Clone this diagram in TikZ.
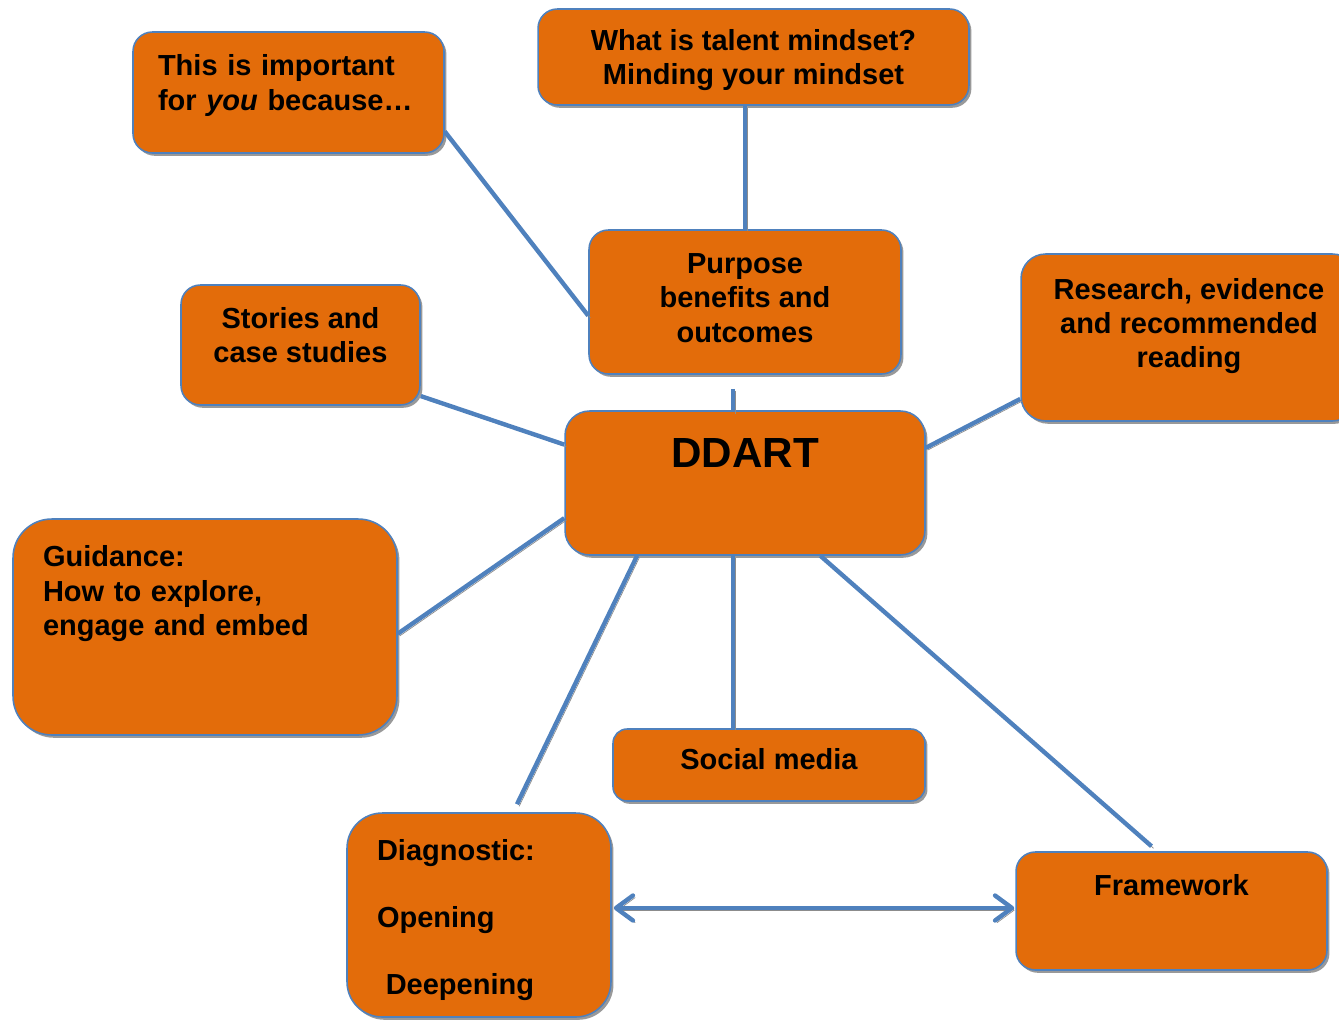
\documentclass[tikz,border=0pt]{standalone}
\usepackage{fontspec}
\setmainfont{Liberation Sans}
\usepackage{xcolor}
\usepackage{tikz}
\usetikzlibrary{arrows.meta, shadows}
\definecolor{DD_ORANGE}{HTML}{E36C0A}
\definecolor{DD_BLUE}{HTML}{4F81BD}
\newcommand{\DDlift}[1]{\rule[-#1]{0pt}{#1}}
\tikzset{
  topic/.style={
    rectangle, rounded corners=11pt,
    text centered, align=center,
    draw=DD_BLUE, line width=0.9pt, fill=DD_ORANGE,
    drop shadow={shadow xshift=1.4pt, shadow yshift=-1.6pt, fill=black, opacity=0.4},
    font=\fontsize{16.5}{19.5}\selectfont\bfseries},
  topicl/.style={
    topic, align=left},
  link/.style={
    line width=2.5pt, draw=DD_BLUE,
    preaction={draw=black!45, transform canvas={xshift=1.2pt, yshift=-1.2pt}}},
  barb/.tip={Straight Barb[length=0.34cm, width=0.5cm, round]},
}
\begin{document}
\begin{tikzpicture}[x=0.02cm, y=-0.02cm]
  \useasboundingbox (0,0) rectangle (1339,1019);

  \node[topic, minimum width=8.62cm, minimum height=1.92cm, text height=35pt] (talent) at (753.5,57)
    {What is talent mindset?\\Minding your mindset};
  \node[topicl, text width=5.22cm, inner xsep=0.5cm, minimum height=2.42cm] (important) at (288.5,92.5)
    {This is important\\for \textit{you} because…\DDlift{0.4cm}};
  \node[topic, minimum width=6.24cm, minimum height=2.88cm] (purpose) at (745,302)
    {Purpose\\benefits and\\outcomes\DDlift{0.16cm}};
  \node[topic, minimum width=4.78cm, minimum height=2.4cm] (stories) at (300.5,345)
    {Stories and\\case studies\DDlift{0.4cm}};
  \node[topic, rounded corners=14pt, minimum width=6.72cm, minimum height=3.34cm] (research) at (1189,337.5)
    {Research, evidence\\and recommended\\reading\DDlift{0.58cm}};

  \node[topic, rounded corners=14pt, minimum width=7.2cm, minimum height=2.88cm,
    font=\fontsize{24}{28}\selectfont\bfseries] (ddart) at (745,483)
    {DDART\DDlift{1.2cm}};

  \node[topicl, rounded corners=22pt, text width=6.48cm, inner xsep=0.6cm, minimum height=4.32cm] (guidance) at (205,627)
    {Guidance:\\How to explore,\\engage and embed\DDlift{1.46cm}};
  \node[topic, rounded corners=8pt, minimum width=6.24cm, minimum height=1.44cm] (social) at (769,765)
    {Social media\DDlift{0.24cm}};
  \node[topicl, rounded corners=20pt, text width=4.08cm, inner xsep=0.6cm, minimum height=4.08cm,
    text height=17.5pt] (diag) at (479,915)
    {Diagnostic:\\[0.66cm]Opening\\[0.66cm]\hspace*{5pt}Deepening};
  \node[topic, minimum width=6.22cm, minimum height=2.36cm] (frame) at (1171.5,911)
    {Framework\DDlift{1.04cm}};

  \draw[link] (talent.south -| purpose.north) -- (purpose.north);
  \draw[link] (important.-14.6) -- (purpose.185.9);
  \draw[link] ([shift={(-12,14)}]purpose.south) -- ([shift={(-12,2)}]ddart.north);
  \draw[link] (stories.-23.1) -- (ddart.168.4);
  \draw[link] (research.200.2) -- (ddart.11.6);
  \draw[link] (guidance.-2.4) -- (ddart.191.6);
  \draw[link] (ddart.214.4) -- ([shift={(38,-8)}]diag.north);
  \draw[link] ([shift={(-12,0)}]ddart.south) -- ([shift={(-12,0)}]ddart.south |- social.north);
  \draw[link] (ddart.-44.6) -- ([shift={(-20,-5)}]frame.north);
  \draw[link, barb-barb] ([shift={(2,-3)}]diag.east |- frame.west) -- ([shift={(-1,-3)}]frame.west);
\end{tikzpicture}
\end{document}
